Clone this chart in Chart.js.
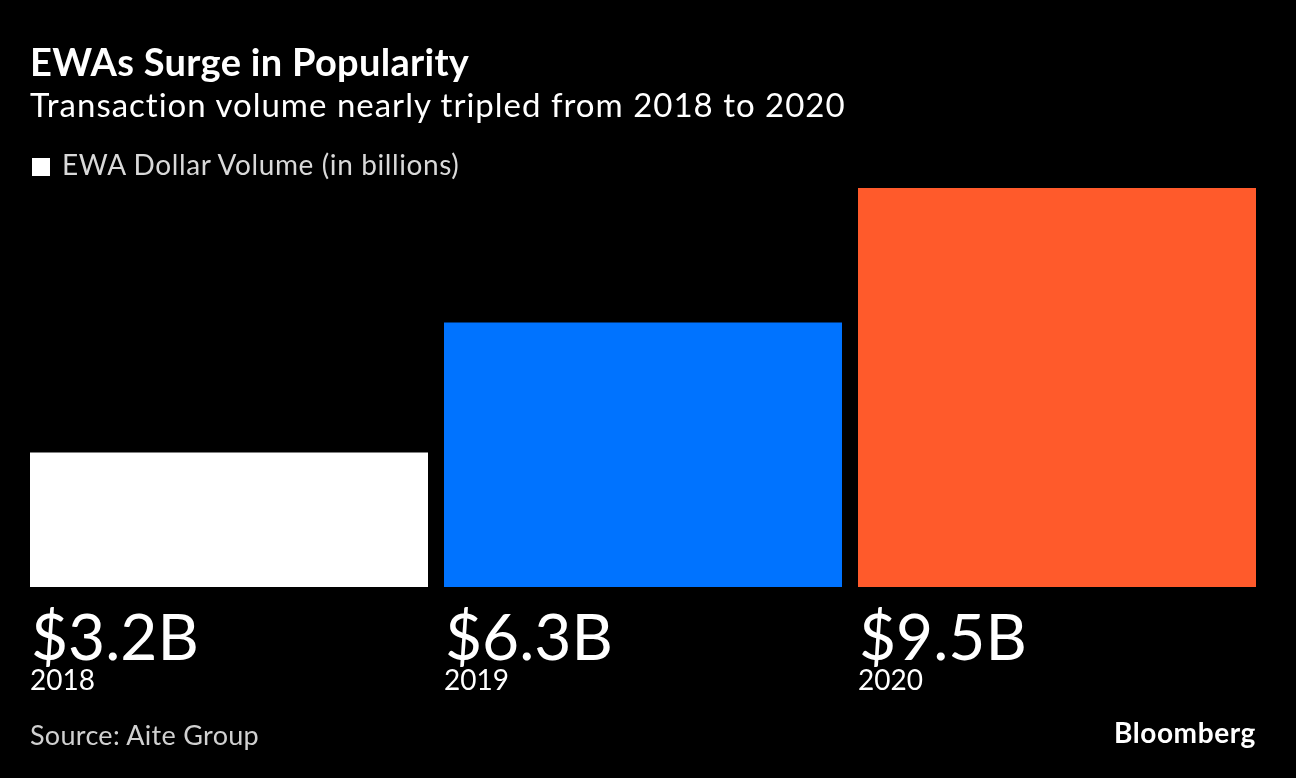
<!DOCTYPE html>
<html>
<head>
<meta charset="utf-8">
<script src="https://cdn.jsdelivr.net/npm/chart.js@4.4.1/dist/chart.umd.min.js"></script>
<style>
  html, body { margin: 0; padding: 0; background: #000; }
  body { width: 1296px; height: 778px; position: relative; overflow: hidden; font-family: Lato, "Noto Sans", sans-serif; color: #fff; }
  #chart { position: absolute; left: 0; top: 0; }
  .txt { position: absolute; white-space: nowrap; line-height: 1; }
  #title { left: 30px; top: 42px; font-size: 38px; font-weight: 700; letter-spacing: 0.3px; }
  #subtitle { left: 30px; top: 88px; font-size: 33px; letter-spacing: 1px; }
  #legend { left: 32px; top: 150px; font-size: 28px; letter-spacing: 0.6px; color: #d9d9d9; }
  #legend span.sw { display: inline-block; width: 18px; height: 18px; background: #fff; margin-right: 12px; vertical-align: -1px; }
  #source { left: 30px; top: 721px; font-size: 27px; letter-spacing: 0.3px; color: #d0d0d0; }
  #logo { right: 40px; top: 718px; font-size: 28px; font-weight: 700; letter-spacing: 0.6px; }
</style>
</head>
<body>
<canvas id="chart" width="1296" height="778"></canvas>
<div class="txt" id="title">EWAs Surge in Popularity</div>
<div class="txt" id="subtitle">Transaction volume nearly tripled from 2018 to 2020</div>
<div class="txt" id="legend"><span class="sw"></span>EWA Dollar Volume (in billions)</div>
<div class="txt" id="source">Source: Aite Group</div>
<div class="txt" id="logo">Bloomberg</div>
<script>
// donn√©es
const years = ["2018", "2019", "2020"];
const volumes = [3.2, 6.3, 9.5];
const valueLabels = ["$3.2B", "$6.3B", "$9.5B"];
const barColors = ["#ffffff", "#0073ff", "#ff5a2b"];

// libell√©s sous chaque barre (valeur + ann√©e)
const barLabels = {
  id: "barLabels",
  afterDatasetsDraw(chart) {
    const ctx = chart.ctx;
    const meta = chart.getDatasetMeta(0);
    const base = chart.scales.y.getPixelForValue(0);
    ctx.save();
    ctx.fillStyle = "#fff";
    ctx.textAlign = "left";
    ctx.textBaseline = "alphabetic";
    meta.data.forEach((bar, i) => {
      const left = bar.x - bar.width / 2;
      ctx.font = "64px Lato, 'Noto Sans', sans-serif";
      ctx.fillText(valueLabels[i], left + 1, base + 73);
      ctx.font = "28px Lato, 'Noto Sans', sans-serif";
      ctx.fillText(years[i], left, base + 103);
    });
    ctx.restore();
  }
};

new Chart(document.getElementById("chart"), {
  type: "bar",
  data: {
    labels: years,
    datasets: [{
      label: "EWA Dollar Volume (in billions)",
      data: volumes,
      backgroundColor: barColors,
      borderWidth: 0,
      barPercentage: 398 / 414,
      categoryPercentage: 1
    }]
  },
  options: {
    responsive: false,
    animation: false,
    layout: { padding: { left: 22, right: 32, top: 188, bottom: 191 } },
    plugins: { legend: { display: false }, tooltip: { enabled: false } },
    scales: {
      x: { display: false },
      y: { display: false, min: 0, max: 9.5 }
    }
  },
  plugins: [barLabels]
});
</script>
</body>
</html>
